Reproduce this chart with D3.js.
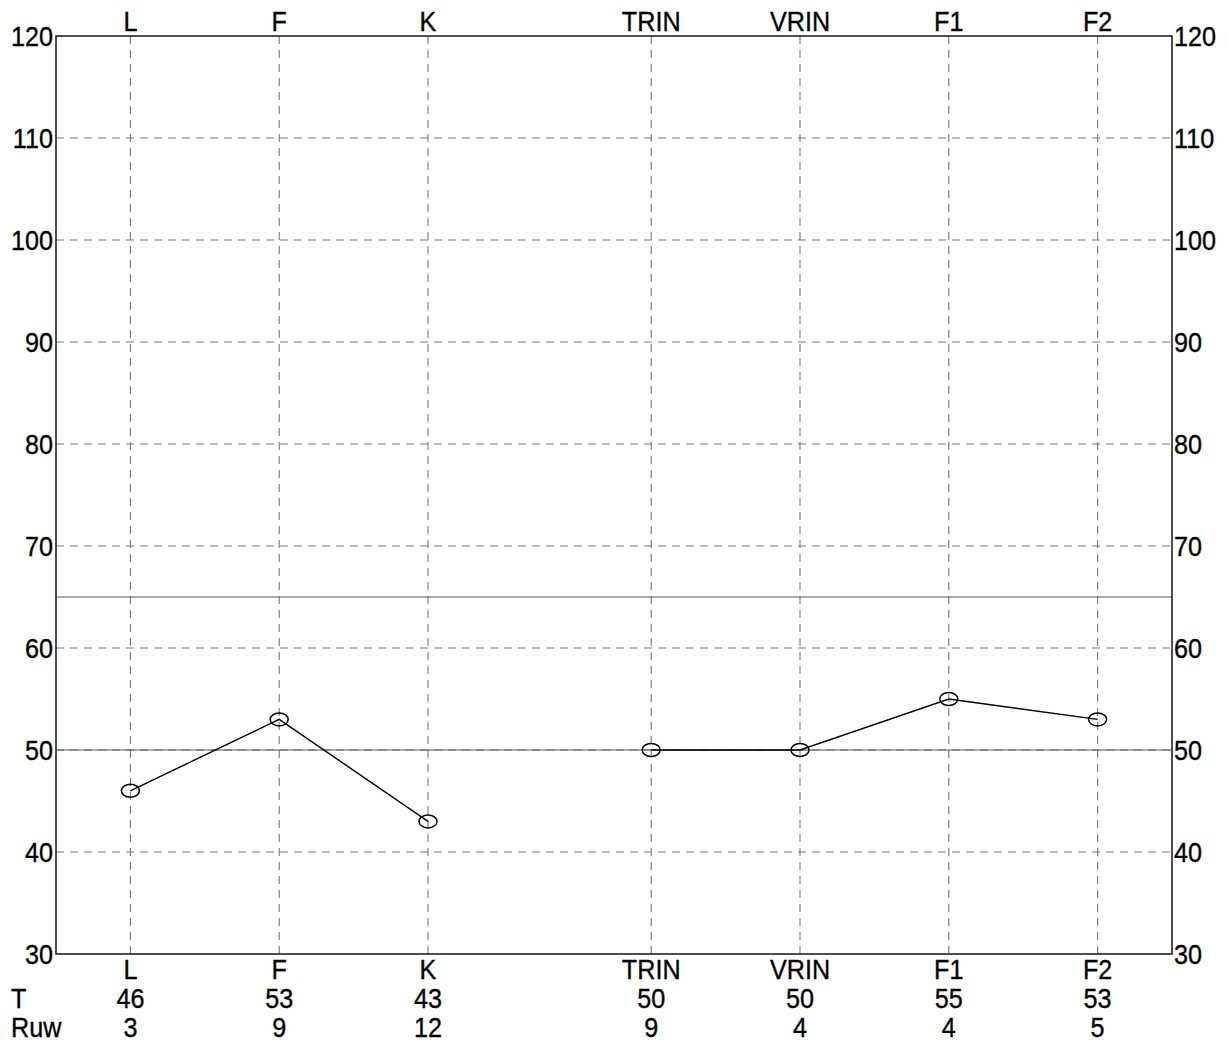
<!DOCTYPE html>
<html>
<head>
<meta charset="utf-8">
<script src="https://cdn.jsdelivr.net/npm/d3@7/dist/d3.min.js"></script>
<style>
  html, body { margin: 0; padding: 0; background: #fff; }
  text { font-family: "Liberation Sans", Arial, Helvetica, sans-serif; fill: #000; stroke: #000; stroke-width: 0.35px; }
</style>
</head>
<body>
<svg id="chart" width="1229" height="1043"></svg>
<script>
// ---- data ----
const categories = ["L", "F", "K", "TRIN", "VRIN", "F1", "F2"];
const slots      = [0.5, 1.5, 2.5, 4, 5, 6, 7];          // category slot on the x axis
const groups     = [0, 0, 0, 1, 1, 1, 1];                // connected line groups
const tScores    = [46, 53, 43, 50, 50, 55, 53];
const rawScores  = [3, 9, 12, 9, 4, 4, 5];
const yTicks     = [30, 40, 50, 60, 70, 80, 90, 100, 110, 120];
const refLines   = [50, 65];
const rowLabels  = ["T", "Ruw"];

// ---- layout ----
const svg = d3.select("#chart");
const mL = 56, mR = 1172, mT = 36, mB = 954;
const x = d3.scaleLinear().domain([0, 7.5]).range([mL, mR]);
const y = d3.scaleLinear().domain([30, 120]).range([mB, mT]);
const fs = 28, sx = 0.9;

function label(g, tx, ty, txt, anchor, baseline) {
  g.append("text")
    .attr("transform", `translate(${tx},${ty}) scale(${sx},1)`)
    .attr("text-anchor", anchor)
    .attr("dominant-baseline", baseline || "auto")
    .style("font-size", fs + "px")
    .text(txt);
}

// horizontal dashed grid
svg.append("g").selectAll("line")
  .data(yTicks.filter(d => d > 30 && d < 120))
  .join("line")
  .attr("x1", mL).attr("x2", mR)
  .attr("y1", d => y(d)).attr("y2", d => y(d))
  .attr("stroke", "#777").attr("stroke-width", 1.1)
  .attr("stroke-dasharray", "8,6");

// vertical dashed grid
svg.append("g").selectAll("line")
  .data(slots)
  .join("line")
  .attr("x1", d => x(d)).attr("x2", d => x(d))
  .attr("y1", mT).attr("y2", mB)
  .attr("stroke", "#777").attr("stroke-width", 1.1)
  .attr("stroke-dasharray", "8,6");

// reference solid lines
svg.append("g").selectAll("line")
  .data(refLines)
  .join("line")
  .attr("x1", mL).attr("x2", mR)
  .attr("y1", d => y(d)).attr("y2", d => y(d))
  .attr("stroke", "#555").attr("stroke-width", 1.2);

// frame
svg.append("rect")
  .attr("x", mL).attr("y", mT)
  .attr("width", mR - mL).attr("height", mB - mT)
  .attr("fill", "none").attr("stroke", "#222").attr("stroke-width", 1.6);

// y tick labels (left and right)
const yl = svg.append("g");
yTicks.forEach(t => {
  label(yl, mL - 3, y(t) + 1, String(t), "end", "central");
  label(yl, mR + 2, y(t) + 1, String(t), "start", "central");
});

// category labels top & bottom, T and raw rows
const cl = svg.append("g");
categories.forEach((c, i) => {
  label(cl, x(slots[i]), 31, c, "middle");
  label(cl, x(slots[i]), 979, c, "middle");
  label(cl, x(slots[i]), 1008, String(tScores[i]), "middle");
  label(cl, x(slots[i]), 1037, String(rawScores[i]), "middle");
});
label(cl, 11, 1008, rowLabels[0], "start");
label(cl, 11, 1037, rowLabels[1], "start");

// profile lines
const pts = categories.map((c, i) => ({ c, s: slots[i], v: tScores[i], g: groups[i] }));
const line = d3.line().x(d => x(d.s)).y(d => y(d.v));
d3.groups(pts, d => d.g).forEach(([, arr]) => {
  svg.append("path")
    .attr("d", line(arr))
    .attr("fill", "none").attr("stroke", "#000").attr("stroke-width", 1.4);
});

// markers
svg.append("g").selectAll("ellipse")
  .data(pts)
  .join("ellipse")
  .attr("cx", d => x(d.s)).attr("cy", d => y(d.v))
  .attr("rx", 9).attr("ry", 6.5)
  .attr("fill", "none").attr("stroke", "#000").attr("stroke-width", 1.5);
</script>
</body>
</html>
